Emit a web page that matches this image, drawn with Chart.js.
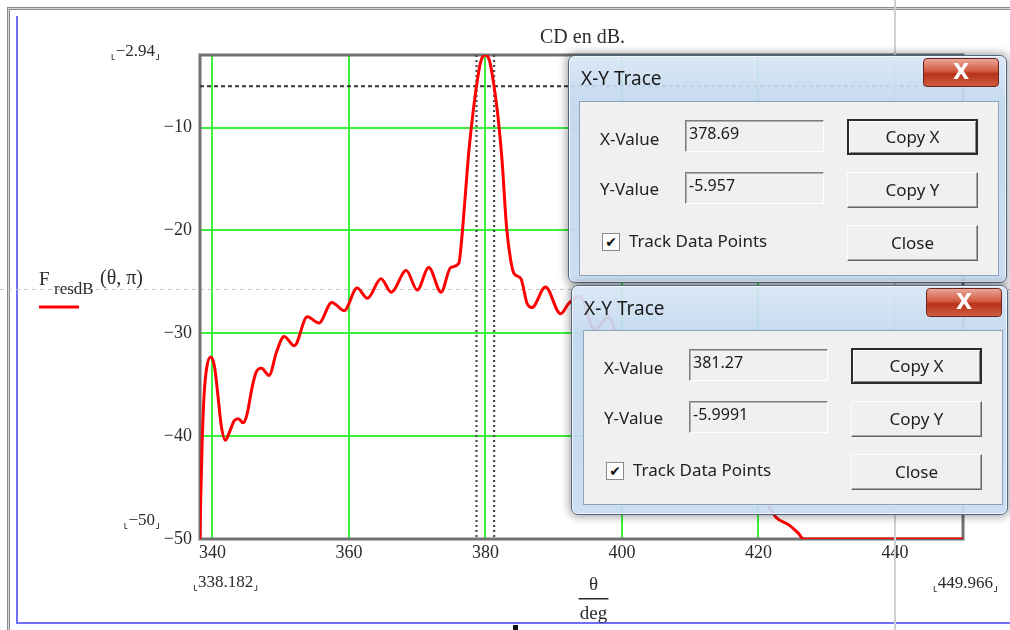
<!DOCTYPE html>
<html>
<head>
<meta charset="utf-8">
<title>CD en dB.</title>
<script src="https://cdn.jsdelivr.net/npm/chart.js@4.4.1/dist/chart.umd.min.js"></script>
<style>
  body { margin: 0; background: #fff; }
  #wrap { position: relative; width: 1010px; height: 630px; overflow: hidden; }
  .dlg {
    position: absolute; box-sizing: border-box; border: 1px solid #4f6780; border-radius: 7px;
    background: linear-gradient(180deg, rgba(216,231,246,0.93) 0%, rgba(192,214,238,0.93) 22%, rgba(199,219,241,0.93) 100%);
    box-shadow: 0 0 9px 2px rgba(0, 0, 0, 0.35), inset 0 0 0 1px rgba(255, 255, 255, 0.75);
    font-family: 'Noto Sans', 'Open Sans', sans-serif; color: #1b1b1b;
  }
  .dlg .ttl { position: absolute; left: 12px; top: 9px; font-size: 19px; line-height: 26px; }
  .dlg .xb {
    position: absolute; left: 354px; top: 2px; width: 76px; height: 29px; box-sizing: border-box;
    border: 1px solid #6b2418; border-radius: 4px;
    background: linear-gradient(#eaa597, #d35a40 45%, #b8311b 55%, #cf5d40);
    color: #fff; font: bold 21px 'DejaVu Sans', sans-serif; text-align: center; line-height: 26px;
  }
  .client { position: absolute; left: 10px; top: 45px; width: 420px; height: 175px; box-sizing: border-box; background: #f0f0f0; border: 1px solid #8ea3ba; }
  .lbl { position: absolute; left: 20px; font-size: 17px; line-height: 20px; color: #222; }
  .tb {
    position: absolute; left: 105px; width: 139px; height: 32px; box-sizing: border-box;
    border: 1px solid; border-color: #7c7c7c #fff #fff #7c7c7c; box-shadow: inset 1px 1px #b0b0b0;
    font-size: 16px; line-height: 18px; padding: 3px 0 0 3px;
  }
  .btn {
    position: absolute; left: 267px; width: 131px; height: 36px; box-sizing: border-box;
    border: 1px solid; border-color: #fdfdfd #646464 #646464 #fdfdfd; box-shadow: inset -1px -1px #a6a6a6;
    background: #f0f0f0; font-size: 17px; text-align: center; line-height: 33px; color: #222;
  }
  .btn.def { border: 2px solid #2a2a2a; box-shadow: inset 1px 1px #fff, inset -1px -1px #8a8a8a; line-height: 31px; }
  .chk { position: absolute; left: 22px; top: 131px; width: 18px; height: 18px; box-sizing: border-box; border: 1px solid #8a8a8a; background: #fff; font: 14px 'DejaVu Sans', sans-serif; line-height: 16px; text-align: center; color: #111; }
  .chkl { position: absolute; left: 49px; top: 129px; font-size: 17px; line-height: 20px; color: #222; }
</style>
</head>
<body>
<div id="wrap">
  <canvas id="chart"></canvas>
</div>
<script>
'use strict';

// Axis limits of the Mathcad plot
const xMin = 338.182;
const xMax = 449.966;
const yMin = -50;
const yMax = -2.94;

const xTickValues = [340, 360, 380, 400, 420, 440];
const yTickValues = [-50, -40, -30, -20, -10];

// theta/deg and F_resdB(theta, pi)
const thetaDeg = [
  338.182, 338.3, 338.5, 338.8, 339.2, 339.75, 340.3, 340.8, 341.3, 341.9,
  342.5, 343.2, 343.8, 344.5, 345.1, 345.8, 346.4, 347.2, 348.3, 349.4,
  350.5, 352.0, 353.9, 355.6, 357.5, 359.3, 361.2, 362.7, 364.7, 366.2,
  368.4, 370.0, 371.7, 373.5, 374.9, 376.1, 376.5, 377.0, 377.5, 378.0,
  378.69, 379.3, 380.0, 380.6, 381.27, 381.8, 382.4, 383.1, 383.7, 384.2,
  385.2, 386.1, 386.8, 388.8, 391.0, 392.2, 393.8, 396.0, 398.0, 400.2,
  402.3, 404.6, 406.8, 409.0, 411.2, 413.5, 415.7, 418.0, 420.2, 422.6,
  424.4, 425.8, 426.6, 449.966,
];
const fResdB = [
  -50, -45.8, -40.5, -35.8, -33.2, -32.3, -33.2, -36.0, -39.0, -40.4,
  -39.6, -38.5, -38.3, -38.7, -37.8, -35.3, -33.8, -33.4, -34.1, -31.8,
  -30.3, -31.2, -28.4, -29.0, -27.0, -27.8, -25.6, -26.6, -24.7, -26.0,
  -23.9, -25.8, -23.6, -26.0, -23.6, -23.2, -21.0, -17.0, -12.8, -9.6,
  -5.957, -3.6, -2.94, -3.5, -5.9991, -8.7, -12.9, -19.7, -22.9, -24.2,
  -24.7, -27.1, -27.5, -25.5, -28.1, -27.1, -26.4, -29.6, -28.4, -31.6,
  -30.6, -34.0, -33.2, -36.8, -36.2, -40.0, -39.6, -44.0, -45.4, -47.9,
  -48.6, -49.4, -50, -50,
];

// X-Y Trace readouts
const traceX = [378.69, 381.27];
const traceY = [-5.957, -5.9991];
const traceXText = ['378.69', '381.27'];
const traceYText = ['-5.957', '-5.9991'];

const serif = "'Liberation Serif', 'Times New Roman', serif";
const gridGreen = '#3cef3c';
const textColor = '#2b2b2b';

function fmtMinus(v) {
  return v < 0 ? '\u2212' + Math.abs(v) : String(v);
}

// corner marks Mathcad puts round the axis limits
function drawLimit(ctx, text, x, y, align) {
  ctx.font = '17px ' + serif;
  ctx.textBaseline = 'middle';
  ctx.textAlign = align;
  ctx.fillText(text, x, y);
  const w = ctx.measureText(text).width;
  const left = align === 'right' ? x - w - 4 : x - 4;
  const right = align === 'right' ? x + 3 : x + w + 3;
  ctx.save();
  ctx.strokeStyle = '#444';
  ctx.lineWidth = 1;
  ctx.beginPath();
  ctx.moveTo(left + 0.5, y + 2);
  ctx.lineTo(left + 0.5, y + 7.5);
  ctx.lineTo(left + 3, y + 7.5);
  ctx.moveTo(right + 0.5, y + 2);
  ctx.lineTo(right + 0.5, y + 7.5);
  ctx.lineTo(right - 2, y + 7.5);
  ctx.stroke();
  ctx.restore();
}

const mathcadDecor = {
  id: 'mathcadDecor',
  beforeDraw(chart) {
    const { ctx, width, height } = chart;
    ctx.save();
    ctx.fillStyle = '#fff';
    ctx.fillRect(0, 0, width, height);
    // worksheet frame
    ctx.strokeStyle = '#8a8a8a';
    ctx.lineWidth = 3;
    ctx.beginPath();
    ctx.moveTo(8.5, height);
    ctx.lineTo(8.5, 8.5);
    ctx.lineTo(width, 8.5);
    ctx.stroke();
    ctx.strokeStyle = '#d6d6d6';
    ctx.lineWidth = 1;
    ctx.beginPath();
    ctx.moveTo(8.5, height);
    ctx.lineTo(8.5, 8.5);
    ctx.lineTo(width, 8.5);
    ctx.stroke();
    // region selection box
    ctx.strokeStyle = '#6e6eff';
    ctx.lineWidth = 2;
    ctx.beginPath();
    ctx.moveTo(17, 16);
    ctx.lineTo(17, 623);
    ctx.lineTo(width, 623);
    ctx.stroke();
    ctx.restore();
  },
  beforeDatasetsDraw(chart) {
    const { ctx, chartArea: a, width } = chart;
    ctx.save();
    // page break line
    ctx.strokeStyle = '#c4c4c4';
    ctx.lineWidth = 1;
    ctx.setLineDash([4, 4]);
    ctx.beginPath();
    ctx.moveTo(0, 289.5);
    ctx.lineTo(width, 289.5);
    ctx.stroke();
    ctx.setLineDash([]);
    // plot box
    ctx.strokeStyle = '#727272';
    ctx.lineWidth = 3;
    ctx.strokeRect(a.left, a.top, a.right - a.left, a.bottom - a.top);
    ctx.restore();
  },
  afterDraw(chart) {
    const { ctx, chartArea: a, height } = chart;
    ctx.save();
    ctx.fillStyle = textColor;

    // title
    ctx.font = '20px ' + serif;
    ctx.textAlign = 'center';
    ctx.textBaseline = 'middle';
    ctx.fillText('CD en dB.', (a.left + a.right) / 2 + 1, 38);

    // axis limits
    drawLimit(ctx, fmtMinus(yMax), a.left - 45, a.top - 3, 'right');
    drawLimit(ctx, fmtMinus(yMin), a.left - 45, a.bottom - 18, 'right');
    drawLimit(ctx, String(xMin), a.left - 2, a.bottom + 44, 'left');
    drawLimit(ctx, String(xMax), a.right + 30, a.bottom + 45, 'right');

    // x axis expression theta / deg
    const cx = (a.left + a.right) / 2 + 12;
    ctx.font = '19px ' + serif;
    ctx.textAlign = 'center';
    ctx.fillText('\u03b8', cx, a.bottom + 46);
    ctx.fillRect(cx - 15, a.bottom + 59, 30, 1.5);
    ctx.fillText('deg', cx, a.bottom + 75);

    // y axis expression with its trace style
    ctx.textAlign = 'left';
    ctx.font = '19px ' + serif;
    ctx.fillText('F', 39, 280);
    ctx.font = '17px ' + serif;
    ctx.fillText('resdB', 54, 290);
    ctx.font = '20px ' + serif;
    ctx.fillText('(\u03b8, \u03c0)', 100, 279);
    ctx.strokeStyle = '#ff0000';
    ctx.lineWidth = 3;
    ctx.beginPath();
    ctx.moveTo(39, 307);
    ctx.lineTo(79, 307);
    ctx.stroke();

    // vertical page line
    ctx.strokeStyle = '#cfcfcf';
    ctx.lineWidth = 2;
    ctx.beginPath();
    ctx.moveTo(895, 0);
    ctx.lineTo(895, height);
    ctx.stroke();

    // insertion marker
    ctx.fillStyle = '#111';
    ctx.fillRect(513, 625, 5, 5);
    ctx.restore();
  },
};

const canvas = document.getElementById('chart');
const wrap = document.getElementById('wrap');
canvas.width = 1010;
canvas.height = 630;
const ctx = canvas.getContext('2d');

new Chart(ctx, {
  type: 'line',
  data: {
    datasets: [
      {
        label: 'F resdB(θ, π)',
        data: thetaDeg.map((t, i) => ({ x: t, y: fResdB[i] })),
        borderColor: '#ff0000',
        borderWidth: 3,
        pointRadius: 0,
        cubicInterpolationMode: 'monotone',
        fill: false,
      },
      ...traceX.map((tx) => ({
        label: 'trace x',
        data: [{ x: tx, y: yMax }, { x: tx, y: yMin }],
        borderColor: '#4a4a4a',
        borderWidth: 2.2,
        borderDash: [2, 3],
        pointRadius: 0,
        fill: false,
      })),
      ...traceY.map((ty) => ({
        label: 'trace y',
        data: [{ x: xMin, y: ty }, { x: xMax, y: ty }],
        borderColor: '#3a3a3a',
        borderWidth: 1.4,
        borderDash: [4, 3],
        pointRadius: 0,
        fill: false,
      })),
    ],
  },
  options: {
    responsive: false,
    animation: false,
    events: [],
    layout: { padding: { left: 140, top: 55, right: 47, bottom: 61 } },
    plugins: {
      legend: { display: false },
      tooltip: { enabled: false },
      title: { display: false },
    },
    scales: {
      x: {
        type: 'linear',
        min: xMin,
        max: xMax,
        afterBuildTicks: (scale) => {
          scale.ticks = xTickValues.map((v) => ({ value: v }));
        },
        afterFit: (scale) => {
          scale.height = 30;
        },
        border: { display: false },
        grid: { color: gridGreen, lineWidth: 2, drawTicks: false },
        ticks: {
          padding: 3,
          maxRotation: 0,
          color: textColor,
          font: { family: serif, size: 18 },
          callback: (v) => fmtMinus(v),
        },
      },
      y: {
        type: 'linear',
        min: yMin,
        max: yMax,
        afterBuildTicks: (scale) => {
          scale.ticks = yTickValues.map((v) => ({ value: v }));
        },
        afterFit: (scale) => {
          scale.width = 60;
        },
        border: { display: false },
        grid: {
          color: (c) => (c.tick && c.tick.value === yMin ? 'rgba(0,0,0,0)' : gridGreen),
          lineWidth: 2,
          drawTicks: false,
        },
        ticks: {
          padding: 8,
          color: textColor,
          font: { family: serif, size: 18 },
          callback: (v) => fmtMinus(v),
        },
      },
    },
  },
  plugins: [mathcadDecor],
});

// X-Y Trace dialogs on top of the plot
const dialogBoxes = [
  { left: 568, top: 55, width: 439, height: 228, client: { left: 10, top: 45 } },
  { left: 571, top: 285, width: 437, height: 230, client: { left: 11, top: 44 } },
];

dialogBoxes.forEach((box, i) => {
  const d = document.createElement('div');
  d.className = 'dlg';
  d.style.left = box.left + 'px';
  d.style.top = box.top + 'px';
  d.style.width = box.width + 'px';
  d.style.height = box.height + 'px';
  d.innerHTML =
    '<div class="ttl">X-Y Trace</div>' +
    '<div class="xb">X</div>' +
    '<div class="client" style="left:' + box.client.left + 'px;top:' + box.client.top + 'px">' +
    '<div class="lbl" style="top:27px">X-Value</div>' +
    '<div class="tb" style="top:18px">' + traceXText[i] + '</div>' +
    '<div class="btn def" style="top:17px">Copy X</div>' +
    '<div class="lbl" style="top:77px">Y-Value</div>' +
    '<div class="tb" style="top:70px">' + traceYText[i] + '</div>' +
    '<div class="btn" style="top:70px">Copy Y</div>' +
    '<div class="chk">\u2714</div>' +
    '<div class="chkl">Track Data Points</div>' +
    '<div class="btn" style="top:123px">Close</div>' +
    '</div>';
  wrap.appendChild(d);
});
</script>
</body>
</html>
